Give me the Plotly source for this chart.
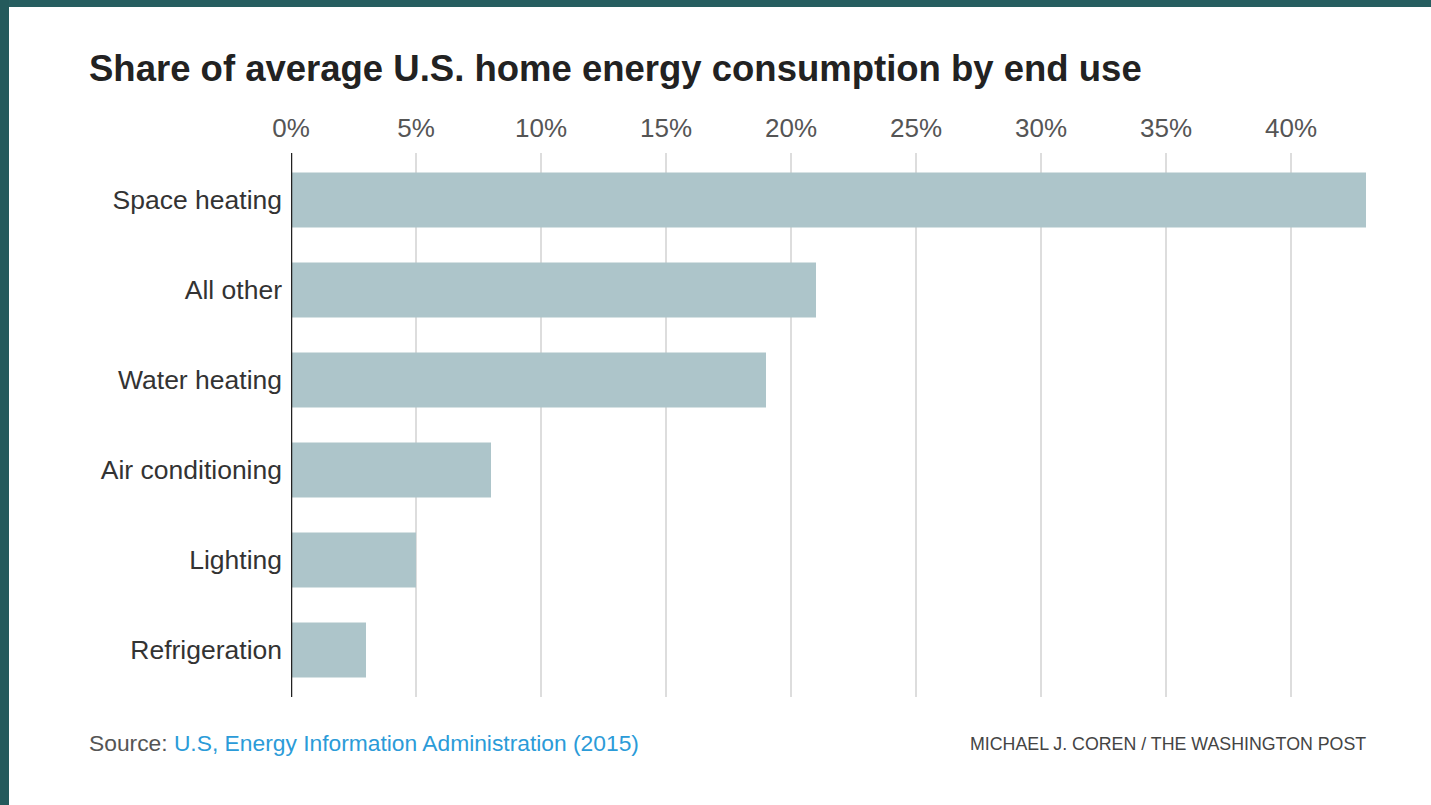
import plotly.graph_objects as go

# Share of average U.S. home energy consumption, percent
categories = ["Space heating", "All other", "Water heating",
              "Air conditioning", "Lighting", "Refrigeration"]
shares = [43, 21, 19, 8, 5, 3]
tick_values = [0, 5, 10, 15, 20, 25, 30, 35, 40]
tick_labels = ["0%", "5%", "10%", "15%", "20%", "25%", "30%", "35%", "40%"]

W, H = 1431, 805
FONT = "Liberation Sans"

def px_x(v):
    return v / W

def px_y(v):
    return 1 - v / H

fig = go.Figure(
    go.Bar(
        x=shares,
        y=categories,
        orientation="h",
        marker=dict(color="#adc5ca", line=dict(width=0)),
        width=0.61,
        hoverinfo="x+y",
    )
)

fig.update_layout(
    width=W,
    height=H,
    margin=dict(l=0, r=0, t=0, b=0, pad=0),
    paper_bgcolor="white",
    plot_bgcolor="white",
    showlegend=False,
    xaxis=dict(
        domain=[px_x(291), px_x(1366)],
        range=[0, 43],
        side="top",
        tickvals=tick_values,
        ticktext=tick_labels,
        tickfont=dict(family=FONT, size=26, color="#555555"),
        showgrid=True,
        gridcolor="#dddddd",
        gridwidth=1.5,
        zeroline=False,
        showline=False,
        ticks="",
        ticklabelstandoff=10,
        automargin=False,
        fixedrange=True,
    ),
    yaxis=dict(
        domain=[px_y(697), px_y(153)],
        range=[5.522, -0.522],
        tickfont=dict(family=FONT, size=26.5, color="#333333"),
        showgrid=False,
        zeroline=False,
        showline=False,
        ticks="",
        ticklabelstandoff=8,
        automargin=False,
        fixedrange=True,
    ),
    shapes=[
        # baseline at 0%
        dict(type="line", xref="x", yref="paper", x0=0, x1=0,
             y0=px_y(697), y1=px_y(153),
             line=dict(color="#222222", width=2.5)),
        # dark frame strips along the top and left edges
        dict(type="rect", xref="paper", yref="paper",
             x0=0, x1=1, y0=px_y(7), y1=1,
             fillcolor="#275e60", line=dict(width=0), layer="above"),
        dict(type="rect", xref="paper", yref="paper",
             x0=0, x1=px_x(9), y0=0, y1=1,
             fillcolor="#245a5c", line=dict(width=0), layer="above"),
    ],
    annotations=[
        dict(text="<b>Share of average U.S. home energy consumption by end use</b>",
             xref="paper", yref="paper", x=px_x(87), y=px_y(68),
             xanchor="left", yanchor="middle", showarrow=False,
             font=dict(family=FONT, size=36.5, color="#222222")),
        dict(text="Source: <span style='color:#2b9bd8'>U.S, Energy Information Administration (2015)</span>",
             xref="paper", yref="paper", x=px_x(87), y=px_y(743),
             xanchor="left", yanchor="middle", showarrow=False,
             font=dict(family=FONT, size=22.8, color="#555555")),
        dict(text="MICHAEL J. COREN / THE WASHINGTON POST",
             xref="paper", yref="paper", x=px_x(1368), y=px_y(744),
             xanchor="right", yanchor="middle", showarrow=False,
             font=dict(family=FONT, size=17.8, color="#444444")),
    ],
)

fig.write_html("out.html")
